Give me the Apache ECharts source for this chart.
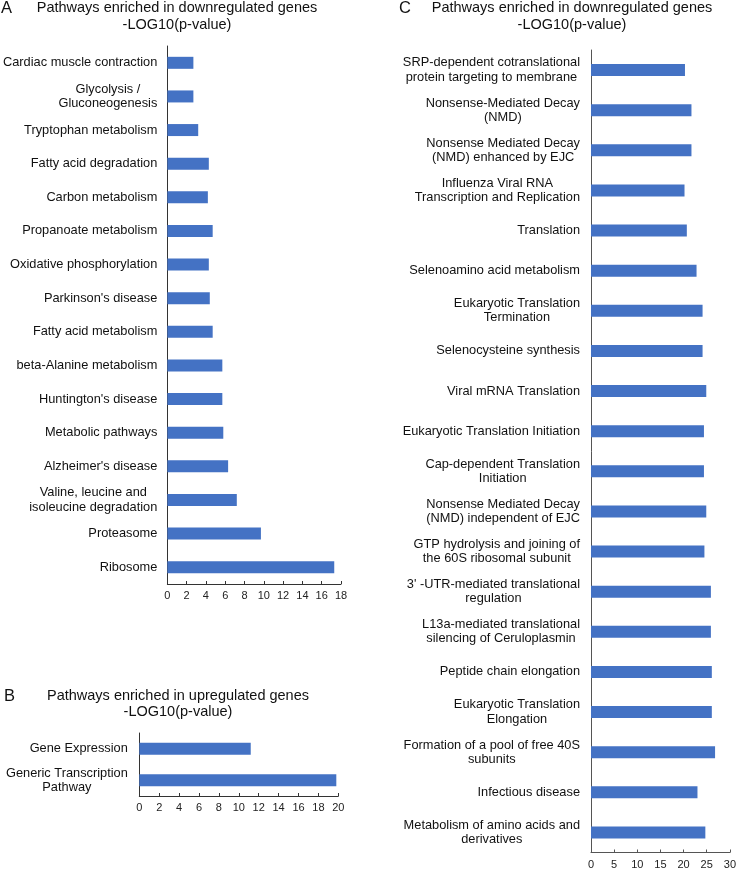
<!DOCTYPE html>
<html>
<head>
<meta charset="utf-8">
<script src="https://cdn.jsdelivr.net/npm/echarts@6/dist/echarts.min.js"></script>
<style>html,body{margin:0;padding:0;background:#fff}#chart{width:739px;height:870px}</style>
</head>
<body>
<div id="chart"></div>
<script>
// Panel A: pathways enriched in downregulated genes (KEGG)
var catsA = ["Cardiac muscle contraction", "Glycolysis /\nGluconeogenesis", "Tryptophan metabolism",
  "Fatty acid degradation", "Carbon metabolism", "Propanoate metabolism", "Oxidative phosphorylation",
  "Parkinson's disease", "Fatty acid metabolism", "beta-Alanine metabolism", "Huntington's disease",
  "Metabolic pathways", "Alzheimer's disease", "Valine, leucine and\nisoleucine degradation",
  "Proteasome", "Ribosome"];
var valsA = [2.7, 2.7, 3.2, 4.3, 4.2, 4.7, 4.3, 4.4, 4.7, 5.7, 5.7, 5.8, 6.3, 7.2, 9.7, 17.3];

// Panel B: pathways enriched in upregulated genes
var catsB = ["Gene Expression", "Generic Transcription\nPathway"];
var valsB = [11.2, 19.8];

// Panel C: pathways enriched in downregulated genes (Reactome)
var catsC = ["SRP-dependent cotranslational\nprotein targeting to membrane", "Nonsense-Mediated Decay\n(NMD)",
  "Nonsense Mediated Decay\n(NMD) enhanced by EJC", "Influenza Viral RNA\nTranscription and Replication",
  "Translation", "Selenoamino acid metabolism", "Eukaryotic Translation\nTermination",
  "Selenocysteine synthesis", "Viral mRNA Translation", "Eukaryotic Translation Initiation",
  "Cap-dependent Translation\nInitiation", "Nonsense Mediated Decay\n(NMD) independent of EJC",
  "GTP hydrolysis and joining of\nthe 60S ribosomal subunit", "3' -UTR-mediated translational\nregulation",
  "L13a-mediated translational\nsilencing of Ceruloplasmin", "Peptide chain elongation",
  "Eukaryotic Translation\nElongation", "Formation of a pool of free 40S\nsubunits", "Infectious disease",
  "Metabolism of amino acids and\nderivatives"];
var valsC = [20.3, 21.7, 21.7, 20.2, 20.7, 22.8, 24.1, 24.1, 24.9, 24.4, 24.4, 24.9, 24.5, 25.9, 25.9,
  26.1, 26.1, 26.8, 23.0, 24.7];

var titleA = "Pathways enriched in downregulated genes\n-LOG10(p-value)";
var titleB = "Pathways enriched in upregulated genes\n-LOG10(p-value)";
var titleC = "Pathways enriched in downregulated genes\n-LOG10(p-value)";

var FONT = "'Liberation Sans', Arial, sans-serif";
var BAR = '#4472C4';

function catLabel(margin) {
  return {
    margin: margin,
    align: 'right',
    formatter: function (v) {
      return v.split('\n').map(function (s) { return '{c|' + s + '}'; }).join('\n');
    },
    rich: { c: { align: 'center', fontSize: 12.8, lineHeight: 14.3, color: '#111', fontFamily: FONT } }
  };
}
function yAx(idx, cats, margin, col) {
  return {
    type: 'category', gridIndex: idx, data: cats, inverse: true,
    axisLine: { show: true, lineStyle: { color: col, width: 1 } },
    axisTick: { show: false }, splitLine: { show: false },
    axisLabel: catLabel(margin)
  };
}
function xAx(idx, max, interval, col, margin) {
  return {
    type: 'value', gridIndex: idx, min: 0, max: max, interval: interval,
    axisLine: { show: true, lineStyle: { color: col, width: 1 } },
    axisTick: { show: true, inside: true, length: 3, lineStyle: { color: col } },
    splitLine: { show: false },
    axisLabel: { fontSize: 11, color: '#222', fontFamily: FONT, margin: margin }
  };
}
function tt(text, x, y) {
  return {
    text: text, left: x, top: y, textAlign: 'center', padding: 0,
    textStyle: { fontSize: 14.5, fontWeight: 'normal', color: '#111', fontFamily: FONT, lineHeight: 16.5 }
  };
}
function letter(text, x, y) {
  return {
    text: text, left: x, top: y, padding: 0,
    textStyle: { fontSize: 16.5, fontWeight: 'normal', color: '#111', fontFamily: FONT }
  };
}

var chart = echarts.init(document.getElementById('chart'), null, { renderer: 'canvas' });
chart.setOption({
  animation: false,
  backgroundColor: '#fff',
  title: [
    tt(titleA, 177, 0), tt(titleB, 178, 687.5), tt(titleC, 572, 0),
    letter('A', 1, 0), letter('B', 4, 688), letter('C', 399, 0)
  ],
  grid: [
    { left: 165, top: 46, width: 176, height: 538 },
    { left: 139.3, top: 733, width: 199, height: 63 },
    { left: 591, top: 50, width: 142.3, height: 803 }
  ],
  xAxis: [
    xAx(0, 18, 2, '#333', 6),
    xAx(1, 20, 2, '#333', 6.5),
    xAx(2, 30, 5, '#555', 6.5)
  ],
  yAxis: [
    yAx(0, catsA, 10, '#333'),
    yAx(1, catsB, 11.5, '#333'),
    yAx(2, catsC, 11, '#555')
  ],
  series: [
    { type: 'bar', xAxisIndex: 0, yAxisIndex: 0, data: valsA, barWidth: 12, itemStyle: { color: BAR } },
    { type: 'bar', xAxisIndex: 1, yAxisIndex: 1, data: valsB, barWidth: 12, itemStyle: { color: BAR } },
    { type: 'bar', xAxisIndex: 2, yAxisIndex: 2, data: valsC, barWidth: 12, itemStyle: { color: BAR } }
  ]
});
</script>
</body>
</html>
